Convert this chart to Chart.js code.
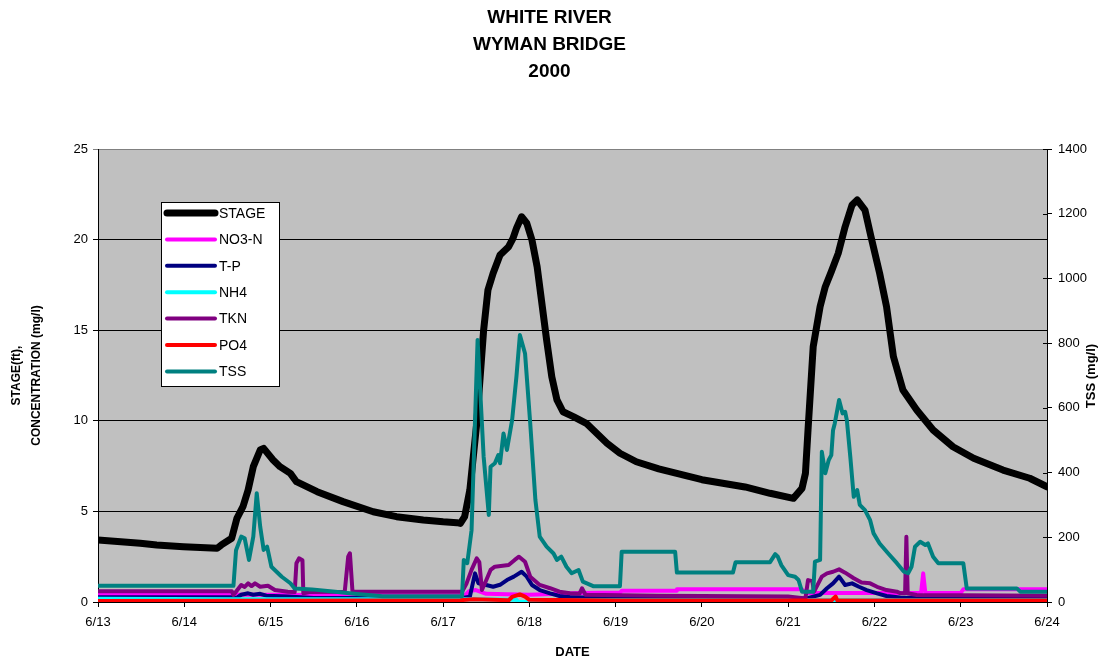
<!DOCTYPE html>
<html>
<head>
<meta charset="utf-8">
<script src="https://cdn.jsdelivr.net/npm/chart.js@4.4.1/dist/chart.umd.min.js"></script>
<style>
  html, body { margin: 0; padding: 0; background: #fff; }
  #wrap { width: 1099px; height: 663px; }
</style>
</head>
<body>
<div id="wrap"><canvas id="c" width="1099" height="663"></canvas></div>
<script>
const titleLines = ["WHITE RIVER", "WYMAN BRIDGE", "2000"]
const dateLabels = ["6/13", "6/14", "6/15", "6/16", "6/17", "6/18", "6/19", "6/20", "6/21", "6/22", "6/23", "6/24"]
const seriesNames = ["STAGE", "NO3-N", "T-P", "NH4", "TKN", "PO4", "TSS"]
const seriesColors = ["#000000", "#ff00ff", "#000080", "#00ffff", "#800080", "#ff0000", "#008080"]

// days after 6/13 00:00
const stageDays = [0, 0.49, 0.68, 0.99, 1.38, 1.43, 1.55, 1.61, 1.68, 1.74, 1.8, 1.88, 1.92, 2.03, 2.11, 2.23, 2.3, 2.54, 2.84, 3.19, 3.46, 3.77, 4, 4.16, 4.2, 4.25, 4.31, 4.39, 4.47, 4.52, 4.58, 4.66, 4.76, 4.81, 4.85, 4.91, 4.97, 5.03, 5.09, 5.14, 5.2, 5.26, 5.32, 5.39, 5.51, 5.66, 5.78, 5.9, 6.05, 6.24, 6.5, 7, 7.5, 7.79, 8.06, 8.16, 8.2, 8.23, 8.29, 8.37, 8.43, 8.5, 8.58, 8.66, 8.74, 8.8, 8.89, 8.96, 9.06, 9.14, 9.22, 9.33, 9.49, 9.68, 9.91, 10.15, 10.49, 10.8, 11]
const stageValues = [3.42, 3.24, 3.15, 3.05, 2.96, 3.15, 3.52, 4.62, 5.26, 6.18, 7.47, 8.39, 8.48, 7.84, 7.47, 7.1, 6.64, 6.09, 5.54, 4.98, 4.71, 4.53, 4.43, 4.38, 4.34, 4.71, 6.18, 9.86, 15.01, 17.22, 18.14, 19.15, 19.61, 20.07, 20.62, 21.26, 20.9, 19.98, 18.5, 16.67, 14.46, 12.43, 11.15, 10.5, 10.23, 9.86, 9.31, 8.76, 8.21, 7.74, 7.35, 6.75, 6.35, 6.0, 5.72, 6.27, 7.1, 9.49, 14.09, 16.3, 17.4, 18.23, 19.24, 20.71, 21.91, 22.19, 21.63, 20.16, 18.14, 16.3, 13.54, 11.7, 10.6, 9.49, 8.57, 7.93, 7.28, 6.83, 6.36]

const no3Days = [0, 2.5, 4.25, 4.3, 4.38, 4.5, 5, 5.6, 6.05, 6.07, 6.7, 6.71, 8.16, 8.2, 9.54, 9.565, 9.59, 10, 10.03, 11]
const no3Values = [0.44, 0.38, 0.36, 0.6, 0.66, 0.45, 0.4, 0.5, 0.52, 0.62, 0.62, 0.7, 0.7, 0.5, 0.5, 1.58, 0.5, 0.5, 0.7, 0.7]

const tpDays = [0, 1.57, 1.6, 1.66, 1.74, 1.8, 1.88, 1.95, 2.2, 2.5, 4.22, 4.31, 4.37, 4.41, 4.5, 4.58, 4.66, 4.74, 4.82, 4.91, 4.97, 5.03, 5.12, 5.24, 5.35, 5.47, 6, 8.21, 8.37, 8.45, 8.52, 8.59, 8.66, 8.74, 8.82, 8.91, 9.03, 9.14, 9.3, 11]
const tpValues = [0.26, 0.26, 0.2, 0.4, 0.48, 0.4, 0.45, 0.35, 0.3, 0.22, 0.22, 0.29, 1.58, 1.03, 0.94, 0.84, 0.95, 1.21, 1.4, 1.67, 1.4, 0.94, 0.66, 0.48, 0.33, 0.28, 0.2, 0.2, 0.39, 0.76, 1.03, 1.4, 0.94, 1.03, 0.84, 0.66, 0.48, 0.33, 0.25, 0.2]

const nh4Days = [0, 1.6, 4.3, 4.85, 4.87, 4.97, 5.0, 11]
const nh4Values = [0.18, 0.15, 0.15, 0.12, 0, 0, 0.1, 0.1]

const tknDays = [0, 1.55, 1.57, 1.66, 1.7, 1.74, 1.78, 1.82, 1.88, 1.97, 2.05, 2.2, 2.28, 2.3, 2.33, 2.37, 2.38, 2.45, 2.86, 2.9, 2.92, 2.95, 4.22, 4.27, 4.33, 4.39, 4.42, 4.45, 4.5, 4.55, 4.6, 4.76, 4.83, 4.88, 4.95, 5.01, 5.12, 5.24, 5.35, 5.47, 5.58, 5.61, 5.65, 6.5, 8, 8.2, 8.23, 8.28, 8.3, 8.39, 8.45, 8.52, 8.59, 8.66, 8.76, 8.85, 8.95, 9.03, 9.14, 9.26, 9.3, 9.355, 9.37, 9.385, 9.49, 11]
const tknValues = [0.6, 0.6, 0.39, 0.94, 0.83, 1.03, 0.88, 1.03, 0.84, 0.9, 0.66, 0.57, 0.55, 2.14, 2.41, 2.3, 0.48, 0.55, 0.57, 2.5, 2.69, 0.57, 0.57, 1.0, 1.77, 2.41, 2.2, 0.66, 1.2, 1.77, 1.95, 2.04, 2.32, 2.5, 2.22, 1.4, 0.94, 0.76, 0.57, 0.48, 0.45, 0.76, 0.4, 0.35, 0.3, 0.2, 1.21, 1.15, 0.57, 1.4, 1.58, 1.67, 1.8, 1.62, 1.31, 1.07, 1.03, 0.84, 0.66, 0.57, 0.48, 0.48, 3.6, 0.48, 0.39, 0.35]

const po4Days = [0, 3, 4.2, 4.35, 4.76, 4.8, 4.89, 4.95, 5.0, 6, 8.5, 8.55, 8.57, 11]
const po4Values = [0.05, 0.08, 0.1, 0.15, 0.1, 0.28, 0.42, 0.3, 0.12, 0.08, 0.08, 0.3, 0.08, 0.08]

const tssDays = [0, 1.57, 1.6, 1.66, 1.7, 1.75, 1.8, 1.84, 1.88, 1.92, 1.96, 2.01, 2.13, 2.23, 2.28, 2.48, 2.75, 3, 3.3, 4.22, 4.24, 4.28, 4.33, 4.4, 4.43, 4.47, 4.53, 4.55, 4.6, 4.64, 4.66, 4.7, 4.74, 4.8, 4.85, 4.89, 4.95, 5.01, 5.07, 5.12, 5.2, 5.28, 5.32, 5.37, 5.43, 5.49, 5.57, 5.62, 5.74, 6.05, 6.07, 6.69, 6.71, 7.36, 7.39, 7.79, 7.85, 7.88, 7.92, 8, 8.08, 8.12, 8.16, 8.29, 8.31, 8.37, 8.39, 8.43, 8.47, 8.5, 8.52, 8.54, 8.59, 8.63, 8.66, 8.68, 8.72, 8.76, 8.8, 8.83, 8.89, 8.95, 8.99, 9.06, 9.16, 9.26, 9.34, 9.39, 9.43, 9.47, 9.53, 9.59, 9.62, 9.68, 9.74, 10.03, 10.07, 10.65, 10.69, 11]
const tssValues = [50, 50, 160, 202, 197, 130, 202, 336, 233, 161, 171, 109, 78, 58, 42, 39, 32, 25, 18, 18, 130, 120, 222, 810, 655, 449, 269, 418, 429, 454, 429, 521, 470, 562, 696, 825, 768, 552, 315, 202, 171, 150, 130, 140, 109, 89, 99, 63, 49, 49, 155, 155, 91, 91, 123, 123, 148, 140, 114, 83, 78, 68, 32, 32, 125, 130, 464, 398, 439, 454, 531, 552, 624, 583, 588, 562, 449, 325, 346, 300, 284, 253, 212, 181, 150, 120, 94, 89, 109, 171, 186, 176, 181, 140, 120, 120, 42, 42, 32, 32]

const zip = (xs, ys) => xs.map((x, i) => ({ x: x, y: ys[i] }))

const seriesData = [
  zip(stageDays, stageValues),
  zip(no3Days, no3Values),
  zip(tpDays, tpValues),
  zip(nh4Days, nh4Values),
  zip(tknDays, tknValues),
  zip(po4Days, po4Values),
  zip(tssDays, tssValues)
]

const datasets = seriesNames.map((name, i) => ({
  label: name,
  data: seriesData[i],
  borderColor: seriesColors[i],
  backgroundColor: seriesColors[i],
  borderWidth: i === 0 ? 7 : 4,
  pointRadius: 0,
  tension: 0,
  borderJoinStyle: "round",
  borderCapStyle: "round",
  yAxisID: name === "TSS" ? "y2" : "y",
  order: seriesNames.length - i
}))

const plotBackground = {
  id: "plotBackground",
  beforeDraw(chart) {
    const { ctx, chartArea: a } = chart
    ctx.save()
    ctx.fillStyle = "#ffffff"
    ctx.fillRect(0, 0, chart.width, chart.height)
    ctx.fillStyle = "#c0c0c0"
    ctx.fillRect(a.left, a.top, a.right - a.left, a.bottom - a.top)
    ctx.restore()
  }
}

const extras = {
  id: "extras",
  afterDraw(chart) {
    const { ctx, chartArea: a } = chart
    ctx.save()

    // right axis ticks crossing into the plot
    const y2 = chart.scales.y2
    ctx.strokeStyle = "#000"
    ctx.lineWidth = 1
    y2.ticks.forEach(t => {
      const py = Math.round(y2.getPixelForValue(t.value)) + 0.5
      ctx.beginPath()
      ctx.moveTo(a.right - 4, py)
      ctx.lineTo(a.right, py)
      ctx.stroke()
    })

    // right axis title, reading upwards
    ctx.font = "bold 13px 'Liberation Sans', Arial, sans-serif"
    ctx.fillStyle = "#000"
    ctx.textAlign = "center"
    ctx.textBaseline = "middle"
    ctx.translate(1091, 376)
    ctx.rotate(-Math.PI / 2)
    ctx.fillText("TSS (mg/l)", 0, 0)
    ctx.setTransform(1, 0, 0, 1, 0, 0)

    // legend box
    const box = { left: 161.5, top: 202.5, w: 118, h: 184 }
    ctx.fillStyle = "#fff"
    ctx.fillRect(box.left, box.top, box.w, box.h)
    ctx.strokeStyle = "#000"
    ctx.lineWidth = 1
    ctx.strokeRect(box.left, box.top, box.w, box.h)
    ctx.font = "14px 'Liberation Sans', Arial, sans-serif"
    ctx.textAlign = "left"
    ctx.lineCap = "round"
    chart.data.datasets.forEach((ds, i) => {
      const y = 213 + i * 26.4
      ctx.strokeStyle = ds.borderColor
      ctx.lineWidth = ds.borderWidth
      ctx.beginPath()
      ctx.moveTo(167, y)
      ctx.lineTo(215, y)
      ctx.stroke()
      ctx.fillStyle = "#000"
      ctx.fillText(ds.label, 219, y + 1)
    })
    ctx.restore()
  }
}

const tickFont = { family: "'Liberation Sans', Arial, sans-serif", size: 13 }
const titleFont = { family: "'Liberation Sans', Arial, sans-serif", size: 12, weight: "bold", lineHeight: "20px" }

new Chart(document.getElementById("c"), {
  type: "line",
  data: { datasets },
  options: {
    responsive: false,
    animation: false,
    devicePixelRatio: 1,
    layout: { padding: 0 },
    plugins: {
      legend: { display: false },
      tooltip: { enabled: false },
      title: {
        display: true,
        text: titleLines,
        color: "#000",
        font: { family: "'Liberation Sans', Arial, sans-serif", size: 19, weight: "bold", lineHeight: "27px" },
        padding: { top: 4, bottom: 64 }
      }
    },
    scales: {
      x: {
        type: "linear",
        min: 0,
        max: 11,
        ticks: {
          stepSize: 1,
          color: "#000",
          font: tickFont,
          padding: 8,
          maxRotation: 0,
          callback: v => dateLabels[v]
        },
        grid: { drawOnChartArea: false, drawTicks: true, tickLength: 5, color: "#000" },
        border: { display: true, color: "#000", width: 1 },
        title: { display: true, text: "DATE", color: "#000", font: { family: "'Liberation Sans', Arial, sans-serif", size: 13, weight: "bold" }, padding: { top: 0, bottom: 3 } },
        afterFit: s => { s.height = 61 }
      },
      y: {
        position: "left",
        min: 0,
        max: 25,
        ticks: { stepSize: 5, color: "#000", font: tickFont, padding: 5 },
        grid: {
          color: c => (c.tick && c.tick.value === 25 ? "#808080" : "#000"),
          lineWidth: 1,
          tickLength: 5
        },
        border: { display: true, color: "#000", width: 1 },
        title: { display: true, text: ["STAGE(ft),", "CONCENTRATION (mg/l)"], color: "#000", font: titleFont, padding: { top: 7, bottom: 0 } },
        afterFit: s => { s.width = 98 }
      },
      y2: {
        position: "right",
        min: 0,
        max: 1400,
        ticks: { stepSize: 200, color: "#000", font: tickFont, padding: 6, callback: v => String(v) },
        grid: { drawOnChartArea: false, tickLength: 5, color: "#000" },
        border: { display: true, color: "#000", width: 1 },
        afterFit: s => { s.width = 52 }
      }
    }
  },
  plugins: [plotBackground, extras]
})
</script>
</body>
</html>
